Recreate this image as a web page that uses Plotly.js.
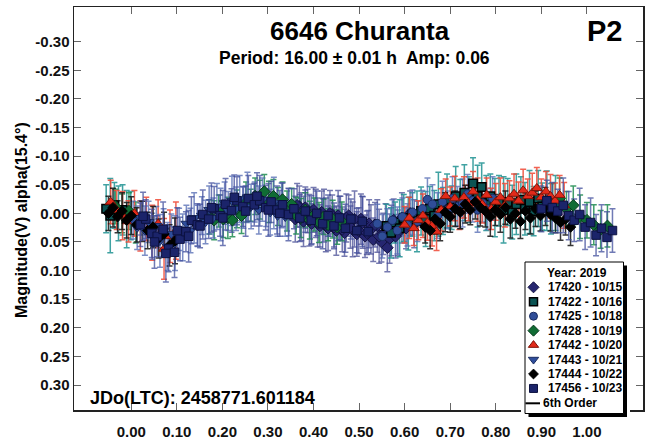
<!DOCTYPE html>
<html>
<head>
<meta charset="utf-8">
<script src="https://cdn.plot.ly/plotly-3.0.1.min.js"></script>
<style>
  html, body { margin: 0; padding: 0; background: #fff; }
  #chart { width: 651px; height: 445px; }
</style>
</head>
<body>
<div id="chart"></div>
<script>
// ---- Session metadata ----
const sessionIds   = ['17420', '17422', '17425', '17428', '17442', '17443', '17444', '17456'];
const sessionDates = ['10/15', '10/16', '10/18', '10/19', '10/20', '10/21', '10/22', '10/23'];

// ---- Phased photometry per session: phase, reduced magnitude, error ----
const ph17420  = [0.360,0.369,0.378,0.387,0.396,0.405,0.414,0.423,0.432,0.441,0.450,0.459,0.468,0.477,0.486,0.495,0.504,0.513,0.522,0.531,0.540,0.549,0.558,0.567,0.576,0.585,0.594,0.603,0.612,0.621,
  0.364,0.373,0.382,0.391,0.400,0.409,0.418,0.427,0.436,0.445,0.454,0.463,0.472,0.481,0.490,0.499,0.508,0.517,0.526,0.535,0.544,0.553,0.562,0.571,0.580];
const mag17420 = [0.010,-0.012,0.014,-0.004,0.018,0.000,0.022,0.004,0.026,0.002,0.030,0.008,0.034,0.004,0.028,0.036,0.010,0.040,0.018,0.046,0.022,0.050,0.024,0.044,0.012,0.034,0.008,0.026,0.000,0.018,
  -0.014,0.006,-0.010,0.012,-0.006,0.016,-0.002,0.020,0.000,0.024,0.004,0.028,0.008,0.024,0.010,0.030,0.016,0.034,0.028,0.020,0.040,0.036,0.060,0.030,0.040];
const err17420 = [0.040,0.036,0.044,0.038,0.035,0.042,0.037,0.046,0.039,0.034,0.043,0.038,0.041,0.036,0.048,0.039,0.044,0.037,0.042,0.038,0.046,0.035,0.041,0.043,0.037,0.040,0.044,0.036,0.039,0.042,
  0.038,0.042,0.036,0.045,0.039,0.043,0.037,0.047,0.040,0.035,0.044,0.039,0.042,0.037,0.049,0.040,0.045,0.038,0.043,0.039,0.047,0.036,0.042,0.044,0.038];

const ph17422  = [-0.055,-0.046,-0.037,-0.028,-0.019,-0.010,-0.001,
  0.560,0.570,0.579,0.589,0.598,0.608,0.617,0.627,0.636,0.646,0.655,0.665,0.674,0.684,0.693,0.703,0.712,0.722,0.731,0.741,
  0.750,0.760,0.769,0.779,0.788,0.798,0.807,0.817,0.826,0.836,0.845,0.855,0.864,0.874,0.883,0.893,0.902,0.912,0.921,0.931];
const mag17422 = [-0.008,0.004,-0.014,0.000,-0.006,0.010,0.004,
  0.022,0.034,0.016,0.026,0.008,0.018,0.002,0.014,-0.004,0.010,-0.008,0.004,-0.016,-0.004,-0.022,-0.010,-0.030,-0.016,-0.036,-0.024,
  -0.052,-0.030,-0.046,-0.018,-0.030,-0.010,-0.022,-0.006,-0.020,-0.002,-0.016,-0.024,-0.008,-0.020,-0.004,-0.026,-0.012,-0.022,-0.008,-0.018];
const err17422 = [0.042,0.065,0.040,0.048,0.044,0.050,0.042,
  0.038,0.044,0.036,0.050,0.041,0.046,0.038,0.053,0.042,0.048,0.039,0.044,0.056,0.041,0.047,0.038,0.052,0.043,0.049,0.040,
  0.045,0.054,0.042,0.048,0.039,0.051,0.044,0.058,0.041,0.047,0.053,0.040,0.046,0.055,0.043,0.049,0.041,0.052,0.044,0.048];

const ph17425  = [0.540,0.551,0.562,0.573,0.584,0.595,0.606,0.617,0.628,0.639,0.650,0.661,0.672,0.683,0.694,0.705,0.716,0.727,0.738,0.749,0.760,0.771,0.782,0.793];
const mag17425 = [0.018,0.040,0.024,0.012,0.030,0.006,0.020,-0.002,0.014,-0.008,-0.024,-0.016,0.004,-0.020,-0.006,-0.026,-0.012,-0.018,-0.034,-0.022,-0.006,-0.018,-0.008,-0.026];
const err17425 = [0.034,0.038,0.032,0.036,0.041,0.033,0.037,0.039,0.035,0.032,0.038,0.034,0.040,0.036,0.033,0.038,0.035,0.042,0.034,0.037,0.039,0.033,0.036,0.038];

const ph17428  = [-0.035,-0.020,-0.005,0.010,
  0.172,0.182,0.192,0.202,0.212,0.222,0.232,0.242,0.252,0.262,0.272,0.282,0.292,0.302,0.312,0.322,0.332,0.342,0.352,0.362,0.372,0.382,0.392,0.402,0.412,0.422,0.432,0.442,0.452,0.462,
  0.925,0.940,0.955,0.970,0.985,1.000,1.015,1.030,1.045];
const mag17428 = [-0.012,0.000,-0.004,0.016,
  0.006,0.012,-0.004,0.010,0.008,0.012,-0.008,0.004,-0.020,-0.014,-0.030,-0.024,-0.038,-0.020,-0.030,-0.012,-0.024,-0.004,-0.016,0.004,0.008,-0.006,0.012,0.002,0.016,0.006,0.020,0.010,0.024,0.014,
  -0.020,-0.026,-0.008,-0.014,0.006,0.012,0.020,0.028,0.022];
const err17428 = [0.030,0.034,0.032,0.036,
  0.030,0.034,0.028,0.032,0.036,0.029,0.033,0.031,0.035,0.028,0.032,0.034,0.030,0.036,0.029,0.033,0.031,0.035,0.028,0.032,0.034,0.030,0.033,0.029,0.035,0.031,0.028,0.033,0.030,0.034,
  0.032,0.036,0.030,0.034,0.038,0.031,0.035,0.033,0.037];

const ph17442  = [-0.045,-0.032,-0.019,-0.006,0.007,0.020,0.033,0.046,0.059,0.072,0.085,0.098,
  0.600,0.610,0.620,0.630,0.640,0.650,0.660,0.670,0.680,0.690,0.700,0.710,0.720,0.730,0.740,0.750,0.760,0.770,
  0.780,0.790,0.800,0.810,0.820,0.830,0.840,0.850,0.860,0.870,0.880,0.890,0.900,0.910,0.920,0.930,0.940,0.950];
const mag17442 = [-0.020,-0.006,0.004,0.014,0.000,0.022,0.010,0.034,0.018,0.062,0.040,0.030,
  0.020,0.008,0.026,0.012,0.004,0.016,0.022,0.032,-0.006,-0.030,-0.012,-0.026,-0.004,-0.028,-0.018,-0.038,-0.024,-0.016,
  -0.032,-0.008,-0.020,-0.028,-0.014,-0.026,-0.034,-0.022,-0.040,-0.030,-0.036,-0.044,-0.028,-0.038,-0.030,-0.022,-0.032,-0.014];
const err17442 = [0.038,0.034,0.042,0.036,0.040,0.044,0.038,0.048,0.042,0.053,0.046,0.050,
  0.032,0.036,0.030,0.034,0.038,0.031,0.035,0.033,0.037,0.030,0.034,0.039,0.032,0.036,0.031,0.035,0.038,0.033,
  0.030,0.036,0.032,0.034,0.038,0.031,0.035,0.033,0.037,0.030,0.034,0.036,0.032,0.035,0.038,0.031,0.034,0.040];

const ph17443  = [0.004,0.013,0.021,0.030,0.038,0.046,0.055,0.063,0.071,0.080,0.088,0.096,0.105,0.113,0.121,0.130,0.138,0.146,0.155,0.163,0.171,
  0.180,0.188,0.196,0.205,0.213,0.221,0.230,0.238,0.246,0.255,0.263,0.271,0.280,0.288,0.296,0.305,0.313,0.321,0.330,0.338,0.346];
const mag17443 = [0.012,0.025,0.008,0.030,0.015,0.040,0.022,0.048,0.030,0.058,0.036,0.052,0.028,0.042,0.018,0.030,0.008,0.022,0.004,0.015,-0.006,
  0.008,-0.012,0.002,-0.018,-0.004,-0.022,-0.008,-0.025,-0.010,-0.028,-0.012,-0.020,-0.006,-0.024,-0.010,-0.002,-0.018,0.004,-0.014,0.006,-0.002];
const err17443 = [0.033,0.038,0.030,0.043,0.036,0.040,0.034,0.046,0.038,0.042,0.035,0.048,0.037,0.041,0.032,0.039,0.044,0.036,0.033,0.038,0.042,
  0.035,0.040,0.046,0.037,0.034,0.043,0.038,0.041,0.036,0.044,0.039,0.035,0.042,0.038,0.033,0.040,0.045,0.036,0.039,0.034,0.041];

const ph17444  = [-0.050,-0.040,-0.030,-0.020,-0.010,0.000,0.012,0.024,0.036,0.048,0.060,0.072,0.084,0.096,
  0.645,0.656,0.667,0.678,0.689,0.700,0.711,0.722,0.733,0.744,0.755,0.766,0.777,0.788,0.799,
  0.810,0.821,0.832,0.843,0.854,0.865,0.876,0.887,0.898,0.909,0.920,0.931,0.942,0.953,0.964];
const mag17444 = [0.000,-0.010,0.006,-0.004,0.012,0.004,0.020,0.014,0.030,0.024,0.044,0.036,0.056,0.048,
  0.024,0.030,0.010,0.018,-0.002,0.006,-0.008,-0.002,-0.016,-0.006,-0.020,-0.010,-0.004,0.006,-0.006,
  0.002,-0.010,0.010,0.000,0.014,-0.004,0.008,-0.008,0.004,-0.012,0.002,0.008,0.016,0.010,0.024];
const err17444 = [0.030,0.034,0.028,0.032,0.031,0.033,0.030,0.035,0.032,0.036,0.034,0.038,0.036,0.040,
  0.028,0.032,0.026,0.030,0.034,0.027,0.031,0.029,0.033,0.026,0.030,0.032,0.028,0.034,0.027,
  0.031,0.029,0.033,0.026,0.030,0.032,0.028,0.031,0.027,0.033,0.029,0.026,0.031,0.028,0.032];

const ph17456  = [0.020,0.032,0.045,0.057,0.070,0.082,0.095,0.107,0.120,0.132,0.145,0.157,0.170,0.182,0.195,0.207,0.220,0.232,0.245,0.257,0.270,
  0.282,0.295,0.307,0.320,0.332,0.345,0.357,0.370,0.382,0.395,0.407,0.420,0.432,0.445,0.457,0.470,0.482,0.495,0.507,0.520,
  0.900,0.912,0.924,0.936,0.948,0.960,0.972,0.984,0.996,1.008,1.020,1.032,1.044,1.056,
  0.026,0.051,0.076,0.101,0.126,0.151,0.176,0.201,0.226,0.251,0.276,0.301,0.326];
const mag17456 = [0.020,0.010,0.035,0.040,0.028,0.062,0.068,0.045,0.032,0.012,0.020,0.002,0.010,-0.008,0.004,-0.016,-0.005,-0.022,-0.012,-0.026,-0.015,
  -0.022,-0.010,-0.020,-0.006,-0.015,0.002,-0.008,0.008,-0.004,0.012,0.000,0.018,0.004,0.022,0.008,0.026,0.010,0.030,0.014,0.032,
  -0.008,-0.022,-0.010,-0.004,-0.014,0.004,0.012,0.002,0.024,0.016,0.038,0.026,0.042,0.030,
  0.005,0.050,0.070,0.030,0.040,0.022,-0.010,0.008,-0.028,-0.004,-0.030,-0.006,0.000];
const err17456 = [0.038,0.034,0.042,0.036,0.048,0.040,0.044,0.038,0.035,0.041,0.037,0.043,0.034,0.039,0.036,0.045,0.038,0.042,0.035,0.040,0.037,
  0.044,0.039,0.036,0.042,0.038,0.046,0.035,0.041,0.037,0.043,0.039,0.044,0.036,0.040,0.038,0.042,0.035,0.039,0.044,0.037,
  0.040,0.036,0.044,0.038,0.048,0.042,0.037,0.046,0.039,0.043,0.036,0.041,0.045,0.038,
  0.042,0.046,0.050,0.040,0.045,0.038,0.043,0.048,0.039,0.044,0.041,0.046,0.040];

// 6th order Fourier fit, sampled along phase
const fitPhase = [-0.05,0.00,0.05,0.10,0.15,0.20,0.25,0.30,0.35,0.40,0.45,0.50,0.55,0.60,0.65,0.70,0.75,0.80,0.85,0.90,0.95,1.00,1.05];
const fitMag   = [-0.010,0.005,0.026,0.040,0.012,-0.008,-0.016,-0.017,-0.005,0.005,0.013,0.018,0.030,0.015,-0.001,-0.018,-0.032,-0.018,-0.013,-0.016,-0.008,0.015,0.033];

// Axis ticks
const xTickVals = [0.0,0.1,0.2,0.3,0.4,0.5,0.6,0.7,0.8,0.9,1.0];
const xTickText = ['0.00','0.10','0.20','0.30','0.40','0.50','0.60','0.70','0.80','0.90','1.00'];
const yTickVals = [-0.30,-0.25,-0.20,-0.15,-0.10,-0.05,0.00,0.05,0.10,0.15,0.20,0.25,0.30];
const yTickText = ['-0.30','-0.25','-0.20','-0.15','-0.10','-0.05','0.00','0.05','0.10','0.15','0.20','0.25','0.30'];

// ---- Styling ----
const FONT = 'Liberation Sans, Arial, Helvetica, sans-serif';
const sessionStyle = [
  { symbol: 'diamond',       size: 9,   color: '#262670', line: '#121240', lw: 1,   bar: 'rgba(72,78,150,0.75)'  },
  { symbol: 'square',        size: 8.5, color: '#0b5454', line: '#000000', lw: 1.5, bar: 'rgba(30,146,146,0.85)' },
  { symbol: 'circle',        size: 8.5, color: '#2f4d98', line: '#1a2c60', lw: 1,   bar: 'rgba(80,104,178,0.75)' },
  { symbol: 'diamond',       size: 9,   color: '#106c34', line: '#083a1c', lw: 1,   bar: 'rgba(30,140,80,0.85)'  },
  { symbol: 'triangle-up',   size: 9.5, color: '#e22a1a', line: '#7e1408', lw: 1,   bar: 'rgba(238,72,52,0.85)'  },
  { symbol: 'triangle-down', size: 9.5, color: '#2f4e9c', line: '#1a2c60', lw: 1,   bar: 'rgba(80,104,178,0.75)' },
  { symbol: 'diamond',       size: 8,   color: '#000000', line: '#000000', lw: 1,   bar: 'rgba(20,20,20,0.85)'   },
  { symbol: 'square',        size: 8.5, color: '#1b246a', line: '#0c1140', lw: 1,   bar: 'rgba(64,78,156,0.75)'  }
];
const sessionData = [
  [ph17420, mag17420, err17420], [ph17422, mag17422, err17422],
  [ph17425, mag17425, err17425], [ph17428, mag17428, err17428],
  [ph17442, mag17442, err17442], [ph17443, mag17443, err17443],
  [ph17444, mag17444, err17444], [ph17456, mag17456, err17456]
];

// ---- Page geometry (pixels) ----
const PAGE_W = 651, PAGE_H = 445;
const M = { l: 74, r: 8, t: 7, b: 28 };
const W = PAGE_W - M.l - M.r;
const H = PAGE_H - M.t - M.b;
const pxX = x => (x - M.l) / W;
const pxY = y => (PAGE_H - M.b - y) / H;
const plotBottom = 410;

// ---- Traces ----
const traces = [];
// fitted curve sits underneath the observations
traces.push({
  x: fitPhase, y: fitMag, type: 'scatter', mode: 'lines',
  line: { color: '#000', width: 1.5, shape: 'spline' },
  hoverinfo: 'skip', showlegend: false
});
// error bars of every session first ...
sessionData.forEach(([ph, mag, err], i) => {
  const s = sessionStyle[i];
  traces.push({
    x: ph, y: mag, type: 'scatter', mode: 'markers',
    marker: { size: s.size, opacity: 0 },
    error_y: { type: 'data', array: err, visible: true, color: s.bar, thickness: 1.5, width: 3 },
    hoverinfo: 'skip', showlegend: false
  });
});
// ... then the session markers on top
sessionData.forEach(([ph, mag], i) => {
  const s = sessionStyle[i];
  traces.push({
    x: ph, y: mag, type: 'scatter', mode: 'markers',
    name: sessionIds[i] + ' - ' + sessionDates[i],
    marker: { symbol: s.symbol, size: s.size, color: s.color, opacity: 1,
              line: { color: s.line, width: s.lw } },
    showlegend: false
  });
});

// Key glyphs, laid out in the small key panel (axes x2/y2 run in page pixels)
const keyTop = 287.3, keyStep = 14.45;
const keyRows = sessionIds.map((_, i) => keyTop + i * keyStep);
traces.push({
  x: sessionIds.map(() => 533.5), y: keyRows,
  xaxis: 'x2', yaxis: 'y2', type: 'scatter', mode: 'markers',
  marker: {
    symbol: sessionStyle.map(s => s.symbol),
    size: sessionStyle.map(s => s.size - 0.5),
    color: sessionStyle.map(s => s.color),
    opacity: 1,
    line: { color: sessionStyle.map(s => s.line), width: sessionStyle.map(s => s.lw) }
  },
  hoverinfo: 'skip', showlegend: false, cliponaxis: false
});

// ---- Annotations ----
const bold = (size, color) => ({ family: FONT, size: size, color: color || '#000', weight: 700 });
const annotations = [
  { text: '6646 Churanta', x: pxX(360), y: pxY(31), xref: 'paper', yref: 'paper',
    xanchor: 'center', yanchor: 'middle', showarrow: false, font: bold(26) },
  { text: 'Period: 16.00 ± 0.01 h  Amp: 0.06', x: pxX(354), y: pxY(58), xref: 'paper', yref: 'paper',
    xanchor: 'center', yanchor: 'middle', showarrow: false, font: bold(17.5) },
  { text: 'P2', x: pxX(604), y: pxY(31), xref: 'paper', yref: 'paper',
    xanchor: 'center', yanchor: 'middle', showarrow: false, font: bold(29) },
  { text: 'JDo(LTC): 2458771.601184', x: pxX(88), y: pxY(398), xref: 'paper', yref: 'paper',
    xanchor: 'left', yanchor: 'middle', showarrow: false, font: bold(18) },
  { text: 'Magnitude(V) alpha(15.4°)', x: pxX(21), y: pxY(220), xref: 'paper', yref: 'paper',
    xanchor: 'center', yanchor: 'middle', textangle: -90, showarrow: false, font: bold(16) },
  { text: 'Year: 2019', x: 576.5, y: 273, xref: 'x2', yref: 'y2',
    xanchor: 'center', yanchor: 'middle', showarrow: false, font: bold(12) },
  { text: '6th Order', x: 540.5, y: 403.3, xref: 'x2', yref: 'y2',
    xanchor: 'left', yanchor: 'middle', showarrow: false, font: bold(12) }
];
sessionIds.forEach((id, i) => {
  annotations.push({
    text: id + ' - ' + sessionDates[i], x: 545.5, y: keyRows[i], xref: 'x2', yref: 'y2',
    xanchor: 'left', yanchor: 'middle', showarrow: false, font: bold(12)
  });
});

// ---- Key panel box with drop shadow and the fit-line sample ----
const shapes = [
  { type: 'rect', xref: 'x2', yref: 'y2', x0: 528.5, x1: 627, y0: 265.5, y1: 417,
    fillcolor: '#000', line: { width: 0 }, layer: 'below' },
  { type: 'rect', xref: 'x2', yref: 'y2', x0: 525, x1: 623.5, y0: 262, y1: 413.5,
    fillcolor: '#fff', line: { color: '#000', width: 1 }, layer: 'below' },
  { type: 'line', xref: 'x2', yref: 'y2', x0: 525.5, x1: 540, y0: 403.3, y1: 403.3,
    line: { color: '#000', width: 2 }, layer: 'below' }
];

const axisCommon = {
  ticks: 'inside', ticklen: 7, tickwidth: 1, tickcolor: '#666',
  showline: true, linecolor: '#222', linewidth: 1.5, mirror: 'ticks',
  showgrid: false, zeroline: false, tickmode: 'array',
  tickfont: bold(15, '#111'), fixedrange: true
};

const layout = {
  width: PAGE_W, height: PAGE_H,
  margin: { l: M.l, r: M.r, t: M.t, b: M.b, pad: 0 },
  paper_bgcolor: '#fff', plot_bgcolor: '#fff',
  showlegend: false,
  xaxis: Object.assign({}, axisCommon, {
    range: [-0.1256, 1.1230], tickvals: xTickVals, ticktext: xTickText,
    anchor: 'y', domain: [0, 1], ticklabelstandoff: 7
  }),
  yaxis: Object.assign({}, axisCommon, {
    range: [0.3437, -0.3607], tickvals: yTickVals, ticktext: yTickText,
    anchor: 'x', domain: [pxY(plotBottom), 1], ticklabelstandoff: 0
  }),
  xaxis2: { domain: [pxX(521), pxX(630)], range: [521, 630], anchor: 'y2', visible: false, fixedrange: true },
  yaxis2: { domain: [0, pxY(258)], range: [PAGE_H - M.b, 258], anchor: 'x2', visible: false, fixedrange: true },
  annotations: annotations,
  shapes: shapes,
  font: { family: FONT }
};

Plotly.newPlot('chart', traces, layout, { displayModeBar: false, staticPlot: true });
</script>
</body>
</html>
